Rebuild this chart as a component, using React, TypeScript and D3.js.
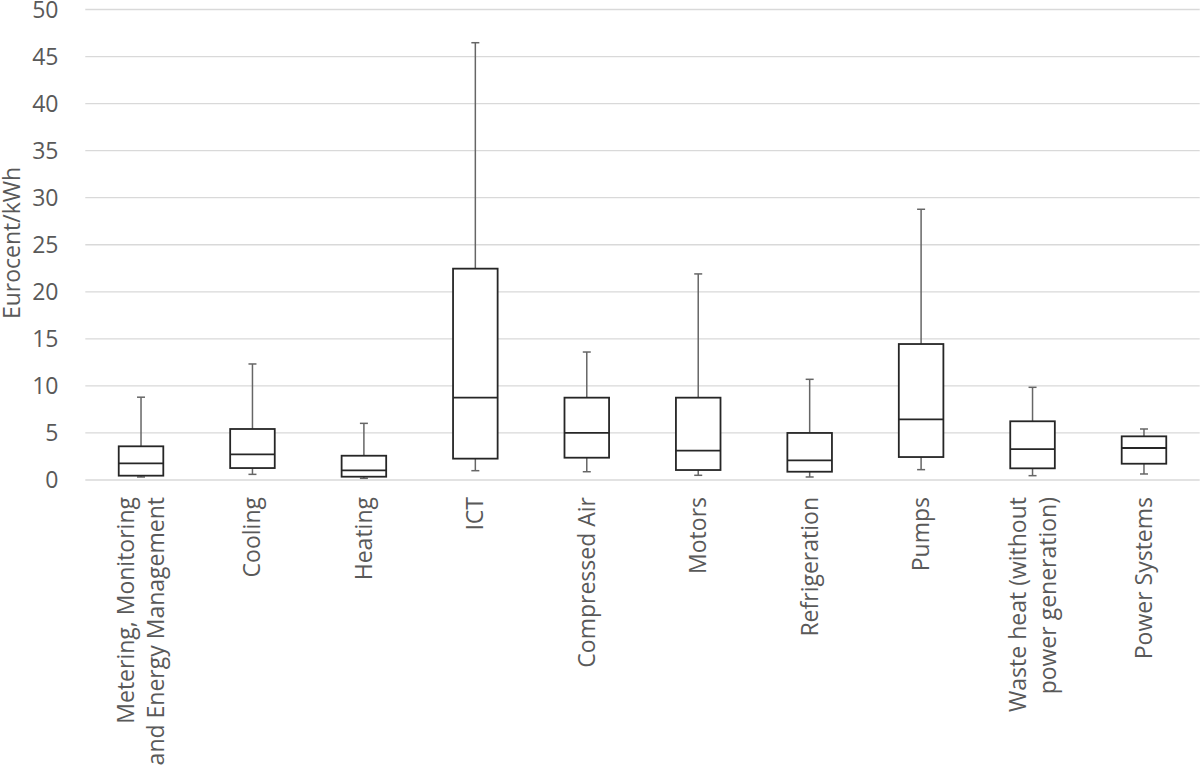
import React from "react";
import * as d3 from "d3";

const categories: string[][] = [
  ["Metering, Monitoring", "and Energy Management"],
  ["Cooling"],
  ["Heating"],
  ["ICT"],
  ["Compressed Air"],
  ["Motors"],
  ["Refrigeration"],
  ["Pumps"],
  ["Waste heat (without", "power generation)"],
  ["Power Systems"],
];

const whiskerLow = [0.32, 0.6, 0.18, 0.99, 0.88, 0.5, 0.32, 1.1, 0.46, 0.64];
const q1 = [0.46, 1.27, 0.35, 2.27, 2.37, 1.06, 0.88, 2.44, 1.24, 1.73];
const median = [1.77, 2.73, 1.03, 8.75, 5.0, 3.12, 2.09, 6.45, 3.29, 3.4];
const q3 = [3.58, 5.42, 2.58, 22.46, 8.75, 8.75, 5.0, 14.45, 6.24, 4.64];
const whiskerHigh = [8.8, 12.33, 6.02, 46.47, 13.6, 21.9, 10.7, 28.77, 9.85, 5.42];

const yTicks = [0, 5, 10, 15, 20, 25, 30, 35, 40, 45, 50];
const yTitle = "Eurocent/kWh";

const W = 1200;
const H = 775;
const FONT = "'Open Sans', sans-serif";
const TEXT = "#595959";

export default function App() {
  const keys = categories.map((_, i) => String(i));
  const x = d3.scaleBand<string>().domain(keys).range([85.3, 1199.7]).paddingInner(0).paddingOuter(0);
  const y = d3.scaleLinear().domain([0, 50]).range([480, 9.5]);
  const bw = x.bandwidth() * 0.4;
  const cap = 8;

  return (
    <div style={{ position: "fixed", left: 0, top: 0, width: W, height: H, background: "#fff" }}>
      <svg width={W} height={H} style={{ display: "block" }}>
        <rect x={0} y={0} width={W} height={H} fill="#fff" />
        {yTicks.map((t) => (
          <g key={t}>
            <line x1={85.3} x2={1199.7} y1={y(t)} y2={y(t)} stroke="#d9d9d9" strokeWidth={1.3} />
            <text x={58.5} y={y(t)} dy="0.36em" textAnchor="end" fontFamily={FONT} fontSize={23} fill={TEXT}>
              {t}
            </text>
          </g>
        ))}
        <text
          transform={`translate(20,243) rotate(-90)`}
          textAnchor="middle"
          fontFamily={FONT}
          fontSize={23}
          fill={TEXT}
        >
          {yTitle}
        </text>
        {keys.map((k, i) => {
          const cx = (x(k) as number) + x.bandwidth() / 2;
          return (
            <g key={k}>
              <line x1={cx} x2={cx} y1={y(q3[i])} y2={y(whiskerHigh[i])} stroke="#666" strokeWidth={1.5} />
              <line x1={cx} x2={cx} y1={y(q1[i])} y2={y(whiskerLow[i])} stroke="#666" strokeWidth={1.5} />
              <line x1={cx - cap / 2} x2={cx + cap / 2} y1={y(whiskerHigh[i])} y2={y(whiskerHigh[i])} stroke="#666" strokeWidth={1.5} />
              <line x1={cx - cap / 2} x2={cx + cap / 2} y1={y(whiskerLow[i])} y2={y(whiskerLow[i])} stroke="#666" strokeWidth={1.5} />
              <rect
                x={cx - bw / 2}
                y={y(q3[i])}
                width={bw}
                height={y(q1[i]) - y(q3[i])}
                fill="#fff"
                stroke="#262626"
                strokeWidth={1.8}
              />
              <line x1={cx - bw / 2} x2={cx + bw / 2} y1={y(median[i])} y2={y(median[i])} stroke="#262626" strokeWidth={1.8} />
            </g>
          );
        })}
        {keys.map((k, i) => {
          const cx = (x(k) as number) + x.bandwidth() / 2;
          const lines = categories[i];
          const lh = 30;
          const n = lines.length;
          return (
            <g key={"l" + k}>
              {lines.map((ln, j) => {
                const off = (j - (n - 1) / 2) * lh;
                return (
                  <text
                    key={j}
                    transform={`translate(${cx + off + 8},497) rotate(-90)`}
                    textAnchor="end"
                    fontFamily={FONT}
                    fontSize={23}
                    fill={TEXT}
                  >
                    {ln}
                  </text>
                );
              })}
            </g>
          );
        })}
      </svg>
    </div>
  );
}
